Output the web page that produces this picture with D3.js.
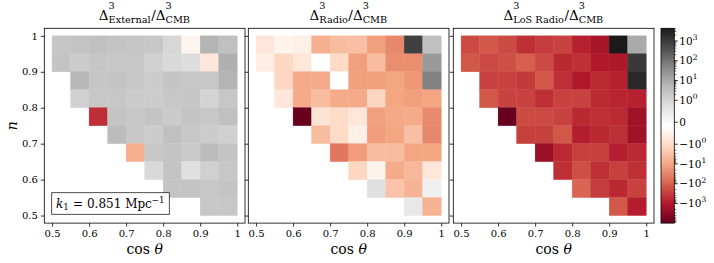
<!DOCTYPE html>
<html>
<head>
<meta charset="utf-8">
<script src="https://cdn.jsdelivr.net/npm/d3@7"></script>
<style>
  body { margin: 0; background: #fff; }
  text { font-family: "DejaVu Serif", serif; fill: #000; }
</style>
</head>
<body>
<div id="chart"></div>
<script>
var _ = null;   // empty bin

// bin edges (cos theta left -> right, n top -> bottom)
var cosEdges = [0.5, 0.55, 0.6, 0.65, 0.7, 0.75, 0.8, 0.85, 0.9, 0.95, 1.0];
var nEdges = [1.0, 0.95, 0.9, 0.85, 0.8, 0.75, 0.7, 0.65, 0.6, 0.55, 0.5];
var xTicks = [0.5, 0.6, 0.7, 0.8, 0.9, 1];
var yTicks = [0.5, 0.6, 0.7, 0.8, 0.9, 1];
var cbTicks = [1000, 100, 10, 1, 0, -1, -10, -100, -1000];

// Delta^3 ratios, rows = n from 1.0 down to 0.5, cols = cos theta 0.5 -> 1.0
var external = [
  [2.4, 2.7, 3.3, 2.7, 2.4, 2.2, 0.95, -0.4, 6.2, 3.3],
  [2.7, 1.7, 2.4, 2.2, 2.2, 1.3, 0.9, 0.81, -0.75, 7.5],
  [_, 5.2, 2.4, 2.7, 2.2, 1.7, 2.7, 2.2, 2.2, 6.2],
  [_, 1.3, 2.2, 2.2, 1.7, 1.7, 2.2, 2.4, 1.0, 2.2],
  [_, _, -500, 2.7, 2.2, 2.7, 1.9, 2.7, 2.2, 3.3],
  [_, _, _, 4.2, 2.2, 1.7, 3.3, 2.2, 1.7, 1.3],
  [_, _, _, _, -7, 2.2, 2.7, 1.9, 4.2, 2.7],
  [_, _, _, _, _, 0.9, 2.7, 0.73, 1.3, 2.2],
  [_, _, _, _, _, _, 2.7, 2.7, 2.2, 2.7],
  [_, _, _, _, _, _, _, _, 2.2, 2.2]
];
var radio = [
  [-0.75, -0.44, -0.54, -7, -4.2, -3.6, -13, -28, 800, 3.3],
  [-0.6, -1.3, -0.78, -0.16, -1.1, -13, -4.2, -23, -23, 21],
  [_, -1.3, -8.3, -8.3, -0.16, -13, -13, -11, -17, 58],
  [_, -0.75, -8.3, -4.2, -8.3, -8.3, -1.4, -11, -13, -11],
  [_, _, -9800, -0.85, -1.0, -0.75, -13, -9.5, -8.3, -26],
  [_, _, _, -4.2, -1.1, -0.54, -14, -11, -3.6, -28],
  [_, _, _, _, -50, -14, -4.2, -4.2, -11, -11],
  [_, _, _, _, _, -1.3, -0.44, -8.3, -5, -0.78],
  [_, _, _, _, _, _, 0.73, -3, -5.9, 0.27],
  [_, _, _, _, _, _, _, _, 0.49, -5.9]
];
var losRadio = [
  [-210, -135, -210, -490, -330, -260, -800, -1400, 4370, 10],
  [-140, -210, -175, -107, -210, -620, -490, -1000, -1100, 1100],
  [_, -260, -260, -350, -135, -490, -1000, -580, -800, 2200],
  [_, -140, -260, -260, -490, -260, -260, -580, -700, -800],
  [_, _, -9500, -200, -210, -260, -620, -490, -580, -1780],
  [_, _, _, -290, -290, -140, -870, -620, -470, -1780],
  [_, _, _, _, -2100, -580, -290, -290, -830, -580],
  [_, _, _, _, _, -490, -175, -490, -290, -490],
  [_, _, _, _, _, _, -85, -330, -620, -260],
  [_, _, _, _, _, _, _, _, -135, -870]
];

var panels = [
  {sub: "External", values: external},
  {sub: "Radio", values: radio},
  {sub: "LoS Radio", values: losRadio}
];

var W = 714, H = 263;
var panelLeft = [44.3, 248.3, 453.3], panelTop = 28.3, panelW = 200.7, panelH = 194.8;
var pad = 0.021;
var cbLeft = 661, cbW = 13.3;

// symmetric log norm (linthresh 1, linscale 1), same as matplotlib SymLogNorm
var linAdj = 1 / (1 - 1 / 10);
function symT(v) {
  var a = Math.abs(v);
  if (a <= 1) return v * linAdj;
  return (v < 0 ? -1 : 1) * (linAdj + Math.log10(a));
}

var allVals = [];
panels.forEach(function(p) {
  p.values.forEach(function(row) {
    row.forEach(function(v) { if (v !== null) allVals.push(v); });
  });
});
var vmin = d3.min(allVals), vmax = d3.max(allVals);

var rdgy = d3.scaleLinear()
  .domain(d3.range(11).map(function(i) { return i / 10; }))
  .range(d3.schemeRdGy[11]);
var norm = d3.scaleLinear().domain([symT(vmin), symT(vmax)]).range([0, 1]).clamp(true);
function color(v) { return rdgy(norm(symT(v))); }

var svg = d3.select("#chart").append("svg")
  .attr("width", W)
  .attr("height", H);

// text with super/subscripts laid out piece by piece
function drawMath(g, pieces, fs, anchor) {
  var x = 0;
  pieces.forEach(function(p) {
    if (p.sup !== undefined || p.sub !== undefined) {
      var both = p.sup !== undefined && p.sub !== undefined;
      var w = 0, t;
      if (p.sup !== undefined) {
        t = g.append("text").attr("x", x).attr("y", both ? -0.85 * fs : -0.45 * fs)
          .style("font-size", (0.72 * fs) + "px").text(p.sup);
        w = Math.max(w, t.node().getComputedTextLength());
      }
      if (p.sub !== undefined) {
        t = g.append("text").attr("x", x).attr("y", 0.2 * fs)
          .style("font-size", (0.72 * fs) + "px").text(p.sub);
        w = Math.max(w, t.node().getComputedTextLength());
      }
      x += w + 0.5;
    } else {
      var t3 = g.append("text").attr("x", x).attr("y", 0)
        .style("font-size", fs + "px")
        .style("font-style", p.it ? "italic" : null)
        .text(p.t);
      x += t3.node().getComputedTextLength();
    }
  });
  var shift = anchor === "middle" ? -x / 2 : (anchor === "end" ? -x : 0);
  g.selectAll("text").attr("transform", "translate(" + shift + ",0)");
  return x;
}

panels.forEach(function(p, i) {
  var g = svg.append("g").attr("transform", "translate(" + panelLeft[i] + "," + panelTop + ")");

  var x = d3.scaleLinear().domain([0.5 - pad, 1 + pad]).range([0, panelW]);
  var y = d3.scaleLinear().domain([0.5 - pad, 1 + pad]).range([panelH, 0]);

  var cells = [];
  p.values.forEach(function(row, r) {
    row.forEach(function(v, c) {
      if (v !== null) cells.push({r: r, c: c, v: v});
    });
  });

  g.selectAll("rect.cell").data(cells).enter()
    .append("rect")
    .attr("class", "cell")
    .attr("x", function(d) { return x(cosEdges[d.c]); })
    .attr("y", function(d) { return y(nEdges[d.r]); })
    .attr("width", function(d) { return x(cosEdges[d.c + 1]) - x(cosEdges[d.c]); })
    .attr("height", function(d) { return y(nEdges[d.r + 1]) - y(nEdges[d.r]); })
    .attr("fill", function(d) { return color(d.v); })
    .attr("stroke", function(d) { return color(d.v); })
    .attr("stroke-width", 0.4);

  // axes
  var xAxis = g.append("g")
    .attr("transform", "translate(0," + panelH + ")")
    .call(d3.axisBottom(x).tickValues(xTicks).tickSize(3.5).tickPadding(3.5)
      .tickFormat(function(d) { return String(d); }));
  var yAxis = g.append("g")
    .call(d3.axisLeft(y).tickValues(yTicks).tickSize(3.5).tickPadding(3)
      .tickFormat(function(d) { return i === 0 ? String(d) : ""; }));
  [xAxis, yAxis].forEach(function(a) {
    a.select(".domain").remove();
    a.attr("font-family", null).attr("font-size", null);
    a.selectAll("line").attr("stroke", "#000").attr("stroke-width", 0.8);
    a.selectAll("text").style("font-size", "10px");
  });

  g.append("rect")
    .attr("width", panelW)
    .attr("height", panelH)
    .attr("fill", "none")
    .attr("stroke", "#000")
    .attr("stroke-width", 0.8);

  // title
  var tg = svg.append("g").attr("transform", "translate(" + (panelLeft[i] + panelW / 2) + ",20)");
  drawMath(tg, [
    {t: "\u0394"}, {sup: "3", sub: p.sub},
    {t: "/"},
    {t: "\u0394"}, {sup: "3", sub: "CMB"}
  ], 13.5, "middle");

  // x label
  var xl = svg.append("g").attr("transform", "translate(" + (panelLeft[i] + panelW / 2) + ",254)");
  drawMath(xl, [{t: "cos\u00a0"}, {t: "\u03b8", it: true}], 14, "middle");
});

// y label
svg.append("text")
  .attr("transform", "translate(17," + (panelTop + panelH / 2) + ") rotate(-90)")
  .attr("text-anchor", "middle")
  .style("font-size", "14px")
  .style("font-style", "italic")
  .text("n");

// k1 legend box
var lg = svg.append("g");
lg.append("rect")
  .attr("x", 51.7).attr("y", 192.7)
  .attr("width", 117.6).attr("height", 21.6)
  .attr("fill", "#fff")
  .attr("stroke", "#222")
  .attr("stroke-width", 0.8);
var lt = lg.append("g").attr("transform", "translate(56,208)");
drawMath(lt, [
  {t: "k", it: true}, {sub: "1"},
  {t: "\u00a0=\u00a00.851\u00a0Mpc"}, {sup: "\u22121"}
], 12, "start");

// colorbar
var defs = svg.append("defs");
var grad = defs.append("linearGradient")
  .attr("id", "cbgrad")
  .attr("x1", 0).attr("y1", 1).attr("x2", 0).attr("y2", 0);
d3.schemeRdGy[11].forEach(function(c, k) {
  grad.append("stop").attr("offset", k / 10).attr("stop-color", c);
});

var cbY = d3.scaleLinear().domain([symT(vmin), symT(vmax)]).range([panelTop + panelH, panelTop]);

svg.append("rect")
  .attr("x", cbLeft).attr("y", panelTop)
  .attr("width", cbW).attr("height", panelH)
  .attr("fill", "url(#cbgrad)");

var minors = [];
[1, 10, 100, 1000].forEach(function(dec) {
  for (var m = 2; m <= 9; m++) {
    [m * dec, -m * dec].forEach(function(v) {
      if (v > vmin && v < vmax) minors.push(v);
    });
  }
});

var cbg = svg.append("g").attr("transform", "translate(" + (cbLeft + cbW) + ",0)");
cbg.selectAll("line.minor").data(minors).enter()
  .append("line")
  .attr("x1", 0).attr("x2", 2)
  .attr("y1", function(d) { return cbY(symT(d)); })
  .attr("y2", function(d) { return cbY(symT(d)); })
  .attr("stroke", "#000").attr("stroke-width", 0.6);
cbg.selectAll("line.major").data(cbTicks).enter()
  .append("line")
  .attr("x1", 0).attr("x2", 3.5)
  .attr("y1", function(d) { return cbY(symT(d)); })
  .attr("y2", function(d) { return cbY(symT(d)); })
  .attr("stroke", "#000").attr("stroke-width", 0.8);

cbTicks.forEach(function(v) {
  var g = cbg.append("g").attr("transform", "translate(5," + (cbY(symT(v)) + 3.6) + ")");
  if (v === 0) {
    drawMath(g, [{t: "0"}], 10.5, "start");
  } else {
    var e = Math.round(Math.log10(Math.abs(v)));
    drawMath(g, [{t: (v < 0 ? "\u2212" : "") + "10"}, {sup: String(e)}], 10.5, "start");
  }
});

svg.append("rect")
  .attr("x", cbLeft).attr("y", panelTop)
  .attr("width", cbW).attr("height", panelH)
  .attr("fill", "none")
  .attr("stroke", "#000")
  .attr("stroke-width", 0.8);
</script>
</body>
</html>
